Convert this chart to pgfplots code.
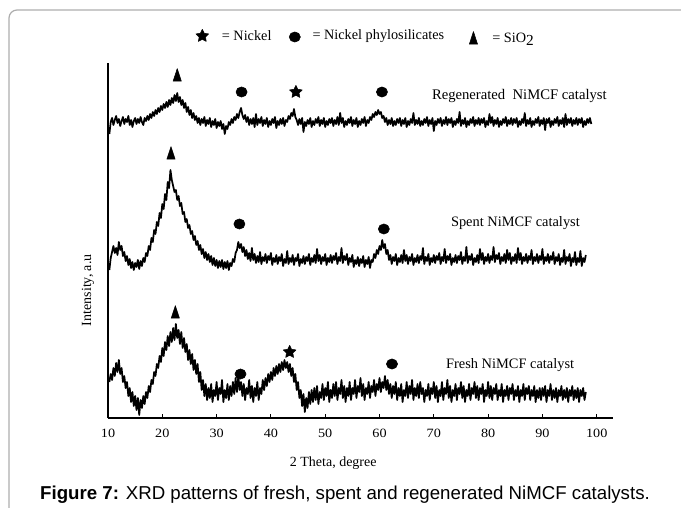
\documentclass[border=0pt]{standalone}
\usepackage{pgfplots}
\pgfplotsset{compat=1.18}
\usepackage{fontspec}
\setmainfont{Liberation Serif}
\newfontfamily\tickfont[FakeStretch=1.12]{Liberation Serif}
\newfontfamily\arialfont{Liberation Sans}

% filled five-point star
\pgfdeclareplotmark{fstar}{%
  \pgfpathmoveto{\pgfpointpolar{90}{\pgfplotmarksize}}%
  \pgfpathlineto{\pgfpointpolar{126}{0.5\pgfplotmarksize}}%
  \pgfpathlineto{\pgfpointpolar{162}{\pgfplotmarksize}}%
  \pgfpathlineto{\pgfpointpolar{198}{0.5\pgfplotmarksize}}%
  \pgfpathlineto{\pgfpointpolar{234}{\pgfplotmarksize}}%
  \pgfpathlineto{\pgfpointpolar{270}{0.5\pgfplotmarksize}}%
  \pgfpathlineto{\pgfpointpolar{306}{\pgfplotmarksize}}%
  \pgfpathlineto{\pgfpointpolar{342}{0.5\pgfplotmarksize}}%
  \pgfpathlineto{\pgfpointpolar{18}{\pgfplotmarksize}}%
  \pgfpathlineto{\pgfpointpolar{54}{0.5\pgfplotmarksize}}%
  \pgfpathclose
  \pgfusepathqfillstroke
}

\begin{document}
\begin{tikzpicture}
\useasboundingbox (-81pt,-66.75pt) rectangle (429.75pt,313.5pt);
\draw[black!32, line width=0.9pt, rounded corners=6pt] (-74.25pt,-91.5pt) rectangle (444pt,306pt);
\begin{axis}[
  scale only axis,
  width=378.75pt, height=266.25pt,
  xmin=10, xmax=103, ymin=0, ymax=355,
  clip=false,
  axis x line*=bottom, axis y line*=left,
  axis line style={line width=1pt},
  xtick={10,20,...,100}, ytick=\empty,
  tick align=inside, major tick length=3pt,
  tick style={line width=0.8pt, black},
  /pgf/number format/assume math mode=true,
  xticklabel style={font=\tickfont\fontsize{9.5}{11}\selectfont, yshift=-5pt},
  xlabel={2 Theta, degree},
  xlabel style={at={(rel axis cs:0.446,0)}, anchor=center, yshift=-33.75pt, font=\fontsize{10.5}{12}\selectfont},
  ylabel={Intensity, a.u},
  ylabel style={at={(rel axis cs:0,0.36)}, anchor=center, yshift=15pt, font=\fontsize{10.5}{12}\selectfont},
  every axis plot/.append style={line join=round},
]
% Fresh NiMCF
\addplot[black, line width=1.3pt, no marks] table[row sep=\\]{
x y\\
10.25 36\\ 10.5 44\\ 10.75 38\\ 11 50\\ 11.25 42\\ 11.5 55\\ 11.75 46\\ 12 58\\ 12.25 44\\ 12.5 50\\ 12.75 36\\
13 42\\ 13.25 30\\ 13.5 36\\ 13.75 22\\ 14 30\\ 14.25 16\\ 14.5 26\\ 14.75 12\\ 15 22\\ 15.25 8\\ 15.5 20\\ 15.75 3\\
16 18\\ 16.25 10\\ 16.5 22\\ 16.75 14\\ 17 26\\ 17.25 20\\ 17.5 32\\ 17.75 26\\ 18 38\\ 18.25 34\\ 18.5 46\\ 18.75 42\\
19 54\\ 19.25 50\\ 19.5 62\\ 19.75 56\\ 20 70\\ 20.25 62\\ 20.5 76\\ 20.75 68\\ 21 82\\ 21.25 72\\ 21.5 86\\ 21.75 76\\
22 90\\ 22.25 78\\ 22.5 94\\ 22.75 80\\ 23 88\\ 23.25 74\\ 23.5 86\\ 23.75 70\\ 24 80\\ 24.25 66\\ 24.5 74\\ 24.75 58\\
25 68\\ 25.25 54\\ 25.5 64\\ 25.75 48\\ 26 58\\ 26.25 44\\ 26.5 54\\ 26.75 36\\ 27 46\\ 27.25 28\\ 27.5 38\\ 27.75 22\\
28 34\\ 28.25 18\\ 28.5 30\\ 28.75 20\\ 29 34\\ 29.25 16\\ 29.5 28\\ 29.75 22\\ 30 36\\ 30.25 18\\ 30.5 30\\ 30.75 24\\
31 38\\ 31.25 16\\ 31.5 28\\ 31.75 20\\ 32 34\\ 32.25 18\\ 32.5 32\\ 32.75 22\\ 33 36\\ 33.25 24\\ 33.5 40\\ 33.75 26\\
34 42\\ 34.25 28\\ 34.5 36\\ 34.75 22\\ 35 34\\ 35.25 18\\ 35.5 30\\ 35.75 24\\ 36 38\\ 36.25 20\\ 36.5 32\\ 36.75 16\\
37 30\\ 37.25 22\\ 37.5 36\\ 37.75 18\\ 38 30\\ 38.25 24\\ 38.5 38\\ 38.75 28\\ 39 40\\ 39.25 32\\ 39.5 44\\ 39.75 36\\
40 46\\ 40.25 38\\ 40.5 50\\ 40.75 42\\ 41 52\\ 41.25 44\\ 41.5 54\\ 41.75 46\\ 42 56\\ 42.25 48\\ 42.5 58\\ 42.75 50\\
43 56\\ 43.25 46\\ 43.5 54\\ 43.75 42\\ 44 50\\ 44.25 36\\ 44.5 44\\ 44.75 28\\ 45 36\\ 45.25 20\\ 45.5 28\\ 45.75 12\\
46 24\\ 46.25 6\\ 46.5 20\\ 46.75 10\\ 47 26\\ 47.25 14\\ 47.5 28\\ 47.75 16\\ 48 30\\ 48.25 18\\ 48.5 32\\ 48.75 14\\
49 26\\ 49.25 20\\ 49.5 34\\ 49.75 18\\ 50 30\\ 50.25 22\\ 50.5 36\\ 50.75 16\\ 51 28\\ 51.25 20\\ 51.5 34\\ 51.75 22\\
52 36\\ 52.25 18\\ 52.5 30\\ 52.75 24\\ 53 38\\ 53.25 20\\ 53.5 32\\ 53.75 16\\ 54 30\\ 54.25 22\\ 54.5 36\\ 54.75 18\\
55 30\\ 55.25 24\\ 55.5 38\\ 55.75 20\\ 56 32\\ 56.25 26\\ 56.5 40\\ 56.75 22\\ 57 34\\ 57.25 18\\ 57.5 30\\ 57.75 24\\
58 36\\ 58.25 20\\ 58.5 32\\ 58.75 26\\ 59 38\\ 59.25 22\\ 59.5 34\\ 59.75 28\\ 60 40\\ 60.25 26\\ 60.5 36\\ 60.75 30\\
61 42\\ 61.25 28\\ 61.5 38\\ 61.75 24\\ 62 34\\ 62.25 20\\ 62.5 32\\ 62.75 24\\ 63 36\\ 63.25 18\\ 63.5 30\\ 63.75 22\\
64 34\\ 64.25 16\\ 64.5 28\\ 64.75 22\\ 65 36\\ 65.25 20\\ 65.5 32\\ 65.75 24\\ 66 38\\ 66.25 18\\ 66.5 30\\ 66.75 22\\
67 34\\ 67.25 20\\ 67.5 36\\ 67.75 24\\ 68 30\\ 68.25 16\\ 68.5 28\\ 68.75 22\\ 69 34\\ 69.25 18\\ 69.5 30\\ 69.75 24\\
70 36\\ 70.25 20\\ 70.5 32\\ 70.75 16\\ 71 28\\ 71.25 22\\ 71.5 36\\ 71.75 18\\ 72 30\\ 72.25 24\\ 72.5 38\\ 72.75 20\\
73 32\\ 73.25 16\\ 73.5 28\\ 73.75 22\\ 74 34\\ 74.25 18\\ 74.5 30\\ 74.75 24\\ 75 36\\ 75.25 20\\ 75.5 32\\ 75.75 16\\
76 28\\ 76.25 22\\ 76.5 34\\ 76.75 18\\ 77 30\\ 77.25 24\\ 77.5 36\\ 77.75 20\\ 78 32\\ 78.25 18\\ 78.5 30\\ 78.75 24\\
79 34\\ 79.25 16\\ 79.5 28\\ 79.75 22\\ 80 36\\ 80.25 20\\ 80.5 32\\ 80.75 18\\ 81 30\\ 81.25 24\\ 81.5 34\\ 81.75 18\\
82 28\\ 82.25 22\\ 82.5 34\\ 82.75 16\\ 83 28\\ 83.25 22\\ 83.5 32\\ 83.75 18\\ 84 30\\ 84.25 24\\ 84.5 34\\ 84.75 18\\
85 28\\ 85.25 22\\ 85.5 32\\ 85.75 16\\ 86 28\\ 86.25 22\\ 86.5 34\\ 86.75 18\\ 87 30\\ 87.25 24\\ 87.5 32\\ 87.75 18\\
88 28\\ 88.25 22\\ 88.5 32\\ 88.75 16\\ 89 28\\ 89.25 20\\ 89.5 30\\ 89.75 18\\ 90 30\\ 90.25 22\\ 90.5 32\\ 90.75 16\\
91 28\\ 91.25 22\\ 91.5 34\\ 91.75 18\\ 92 28\\ 92.25 20\\ 92.5 30\\ 92.75 16\\ 93 28\\ 93.25 22\\ 93.5 32\\ 93.75 18\\
94 28\\ 94.25 20\\ 94.5 30\\ 94.75 16\\ 95 28\\ 95.25 22\\ 95.5 32\\ 95.75 18\\ 96 28\\ 96.25 20\\ 96.5 30\\ 96.75 16\\
97 28\\ 97.25 22\\ 97.5 30\\ 97.75 18\\ 98 26\\
};
% Spent NiMCF
\addplot[black, line width=1.3pt, no marks] table[row sep=\\]{
x y\\
10.25 148\\ 10.5 160\\ 10.75 166\\ 11 172\\ 11.25 165\\ 11.5 170\\ 11.75 163\\ 12 176\\ 12.25 168\\ 12.5 172\\ 12.75 162\\
13 166\\ 13.25 157\\ 13.5 162\\ 13.75 153\\ 14 159\\ 14.25 150\\ 14.5 156\\ 14.75 148\\ 15 155\\ 15.25 151\\ 15.5 158\\ 15.75 149\\
16 157\\ 16.25 152\\ 16.5 160\\ 16.75 156\\ 17 165\\ 17.25 162\\ 17.5 172\\ 17.75 168\\ 18 180\\ 18.25 176\\ 18.5 188\\ 18.75 184\\
19 196\\ 19.25 192\\ 19.5 205\\ 19.75 200\\ 20 214\\ 20.25 209\\ 20.5 224\\ 20.75 218\\ 21 236\\ 21.25 230\\ 21.5 248\\ 21.75 238\\
22 232\\ 22.25 226\\ 22.5 228\\ 22.75 218\\ 23 222\\ 23.25 212\\ 23.5 215\\ 23.75 204\\ 24 206\\ 24.25 196\\ 24.5 199\\ 24.75 190\\
25 193\\ 25.25 184\\ 25.5 187\\ 25.75 178\\ 26 182\\ 26.25 173\\ 26.5 177\\ 26.75 168\\ 27 173\\ 27.25 164\\ 27.5 169\\ 27.75 160\\
28 166\\ 28.25 158\\ 28.5 164\\ 28.75 156\\ 29 162\\ 29.25 153\\ 29.5 160\\ 29.75 152\\ 30 158\\ 30.25 150\\ 30.5 157\\ 30.75 151\\
31 158\\ 31.25 149\\ 31.5 156\\ 31.75 150\\ 32 157\\ 32.25 148\\ 32.5 155\\ 32.75 152\\ 33 159\\ 33.25 156\\ 33.5 165\\ 33.75 168\\
34 176\\ 34.25 170\\ 34.5 174\\ 34.75 166\\ 35 171\\ 35.25 162\\ 35.5 168\\ 35.75 159\\ 36 165\\ 36.25 157\\ 36.5 170\\ 36.75 158\\
37 164\\ 37.25 155\\ 37.5 162\\ 37.75 156\\ 38 166\\ 38.25 154\\ 38.5 161\\ 38.75 157\\ 39 164\\ 39.25 155\\ 39.5 162\\ 39.75 158\\
40 165\\ 40.25 153\\ 40.5 160\\ 40.75 156\\ 41 163\\ 41.25 154\\ 41.5 161\\ 41.75 157\\ 42 164\\ 42.25 152\\ 42.5 159\\ 42.75 155\\
43 167\\ 43.25 154\\ 43.5 160\\ 43.75 156\\ 44 163\\ 44.25 153\\ 44.5 160\\ 44.75 157\\ 45 164\\ 45.25 152\\ 45.5 159\\ 45.75 155\\
46 162\\ 46.25 154\\ 46.5 161\\ 46.75 157\\ 47 164\\ 47.25 153\\ 47.5 160\\ 47.75 156\\ 48 163\\ 48.25 155\\ 48.5 169\\ 48.75 157\\
49 163\\ 49.25 154\\ 49.5 161\\ 49.75 157\\ 50 164\\ 50.25 153\\ 50.5 160\\ 50.75 156\\ 51 163\\ 51.25 155\\ 51.5 162\\ 51.75 158\\
52 165\\ 52.25 154\\ 52.5 161\\ 52.75 157\\ 53 170\\ 53.25 155\\ 53.5 162\\ 53.75 158\\ 54 164\\ 54.25 153\\ 54.5 160\\ 54.75 156\\
55 163\\ 55.25 151\\ 55.5 158\\ 55.75 154\\ 56 161\\ 56.25 152\\ 56.5 159\\ 56.75 155\\ 57 162\\ 57.25 151\\ 57.5 158\\ 57.75 154\\
58 161\\ 58.25 150\\ 58.5 158\\ 58.75 156\\ 59 164\\ 59.25 160\\ 59.5 168\\ 59.75 164\\ 60 172\\ 60.25 168\\ 60.5 178\\ 60.75 170\\
61 174\\ 61.25 164\\ 61.5 168\\ 61.75 158\\ 62 163\\ 62.25 154\\ 62.5 161\\ 62.75 157\\ 63 164\\ 63.25 153\\ 63.5 160\\ 63.75 156\\
64 163\\ 64.25 155\\ 64.5 168\\ 64.75 157\\ 65 163\\ 65.25 154\\ 65.5 161\\ 65.75 157\\ 66 164\\ 66.25 153\\ 66.5 160\\ 66.75 156\\
67 163\\ 67.25 155\\ 67.5 162\\ 67.75 158\\ 68 170\\ 68.25 154\\ 68.5 161\\ 68.75 157\\ 69 164\\ 69.25 153\\ 69.5 160\\ 69.75 156\\
70 163\\ 70.25 155\\ 70.5 162\\ 70.75 158\\ 71 165\\ 71.25 154\\ 71.5 161\\ 71.75 157\\ 72 169\\ 72.25 155\\ 72.5 162\\ 72.75 158\\
73 164\\ 73.25 153\\ 73.5 160\\ 73.75 156\\ 74 163\\ 74.25 155\\ 74.5 162\\ 74.75 158\\ 75 166\\ 75.25 154\\ 75.5 161\\ 75.75 157\\
76 171\\ 76.25 155\\ 76.5 162\\ 76.75 158\\ 77 164\\ 77.25 153\\ 77.5 160\\ 77.75 156\\ 78 163\\ 78.25 155\\ 78.5 169\\ 78.75 158\\
79 165\\ 79.25 154\\ 79.5 161\\ 79.75 157\\ 80 164\\ 80.25 155\\ 80.5 162\\ 80.75 158\\ 81 171\\ 81.25 156\\ 81.5 163\\ 81.75 159\\
82 165\\ 82.25 154\\ 82.5 161\\ 82.75 157\\ 83 164\\ 83.25 155\\ 83.5 168\\ 83.75 158\\ 84 165\\ 84.25 154\\ 84.5 161\\ 84.75 157\\
85 164\\ 85.25 155\\ 85.5 170\\ 85.75 158\\ 86 165\\ 86.25 154\\ 86.5 161\\ 86.75 157\\ 87 164\\ 87.25 155\\ 87.5 162\\ 87.75 158\\
88 168\\ 88.25 154\\ 88.5 161\\ 88.75 157\\ 89 164\\ 89.25 155\\ 89.5 162\\ 89.75 158\\ 90 169\\ 90.25 154\\ 90.5 161\\ 90.75 157\\
91 164\\ 91.25 155\\ 91.5 162\\ 91.75 158\\ 92 166\\ 92.25 154\\ 92.5 161\\ 92.75 157\\ 93 164\\ 93.25 153\\ 93.5 160\\ 93.75 156\\
94 168\\ 94.25 154\\ 94.5 161\\ 94.75 157\\ 95 164\\ 95.25 152\\ 95.5 160\\ 95.75 156\\ 96 166\\ 96.25 153\\ 96.5 160\\ 96.75 156\\
97 167\\ 97.25 152\\ 97.5 160\\ 97.75 156\\ 98 163\\
};
% Regenerated NiMCF
\addplot[black, line width=1.3pt, no marks] table[row sep=\\]{
x y\\
10.25 284\\ 10.5 296\\ 10.75 300\\ 11 293\\ 11.25 298\\ 11.5 302\\ 11.75 295\\ 12 299\\ 12.25 292\\ 12.5 297\\ 12.75 301\\
13 294\\ 13.25 299\\ 13.5 296\\ 13.75 302\\ 14 293\\ 14.25 298\\ 14.5 291\\ 14.75 297\\ 15 300\\ 15.25 294\\ 15.5 299\\ 15.75 295\\
16 301\\ 16.25 296\\ 16.5 293\\ 16.75 300\\ 17 297\\ 17.25 302\\ 17.5 298\\ 17.75 304\\ 18 300\\ 18.25 306\\ 18.5 302\\ 18.75 308\\
19 304\\ 19.25 310\\ 19.5 306\\ 19.75 312\\ 20 308\\ 20.25 314\\ 20.5 310\\ 20.75 316\\ 21 311\\ 21.25 318\\ 21.5 313\\ 21.75 320\\
22 315\\ 22.25 323\\ 22.5 317\\ 22.75 325\\ 23 316\\ 23.25 321\\ 23.5 313\\ 23.75 318\\ 24 310\\ 24.25 315\\ 24.5 306\\ 24.75 311\\
25 303\\ 25.25 308\\ 25.5 300\\ 25.75 305\\ 26 298\\ 26.25 302\\ 26.5 295\\ 26.75 300\\ 27 293\\ 27.25 299\\ 27.5 295\\ 27.75 301\\
28 292\\ 28.25 298\\ 28.5 294\\ 28.75 300\\ 29 291\\ 29.25 297\\ 29.5 293\\ 29.75 299\\ 30 290\\ 30.25 296\\ 30.5 292\\ 30.75 297\\
31 289\\ 31.25 294\\ 31.5 284\\ 31.75 292\\ 32 289\\ 32.25 296\\ 32.5 293\\ 32.75 299\\ 33 295\\ 33.25 301\\ 33.5 298\\ 33.75 304\\
34 300\\ 34.25 306\\ 34.5 310\\ 34.75 303\\ 35 299\\ 35.25 303\\ 35.5 296\\ 35.75 301\\ 36 293\\ 36.25 299\\ 36.5 294\\ 36.75 300\\
37 291\\ 37.25 304\\ 37.5 293\\ 37.75 299\\ 38 295\\ 38.25 301\\ 38.5 292\\ 38.75 298\\ 39 294\\ 39.25 300\\ 39.5 291\\ 39.75 297\\
40 293\\ 40.25 299\\ 40.5 295\\ 40.75 301\\ 41 290\\ 41.25 297\\ 41.5 293\\ 41.75 299\\ 42 294\\ 42.25 300\\ 42.5 292\\ 42.75 298\\
43 296\\ 43.25 302\\ 43.5 299\\ 43.75 305\\ 44 302\\ 44.25 309\\ 44.5 301\\ 44.75 298\\ 45 293\\ 45.25 299\\ 45.5 294\\ 45.75 300\\
46 286\\ 46.25 296\\ 46.5 292\\ 46.75 298\\ 47 294\\ 47.25 300\\ 47.5 291\\ 47.75 297\\ 48 293\\ 48.25 299\\ 48.5 295\\ 48.75 301\\
49 292\\ 49.25 298\\ 49.5 294\\ 49.75 300\\ 50 291\\ 50.25 297\\ 50.5 293\\ 50.75 299\\ 51 295\\ 51.25 300\\ 51.5 292\\ 51.75 298\\
52 294\\ 52.25 301\\ 52.5 293\\ 52.75 305\\ 53 295\\ 53.25 300\\ 53.5 291\\ 53.75 297\\ 54 293\\ 54.25 299\\ 54.5 295\\ 54.75 301\\
55 292\\ 55.25 298\\ 55.5 294\\ 55.75 300\\ 56 291\\ 56.25 297\\ 56.5 293\\ 56.75 299\\ 57 295\\ 57.25 301\\ 57.5 292\\ 57.75 298\\
58 295\\ 58.25 301\\ 58.5 298\\ 58.75 304\\ 59 301\\ 59.25 306\\ 59.5 303\\ 59.75 308\\ 60 304\\ 60.25 306\\ 60.5 300\\ 60.75 302\\
61 296\\ 61.25 300\\ 61.5 293\\ 61.75 298\\ 62 294\\ 62.25 300\\ 62.5 292\\ 62.75 297\\ 63 293\\ 63.25 299\\ 63.5 295\\ 63.75 300\\
64 292\\ 64.25 298\\ 64.5 294\\ 64.75 300\\ 65 291\\ 65.25 297\\ 65.5 293\\ 65.75 299\\ 66 295\\ 66.25 305\\ 66.5 293\\ 66.75 298\\
67 294\\ 67.25 300\\ 67.5 292\\ 67.75 297\\ 68 293\\ 68.25 299\\ 68.5 295\\ 68.75 301\\ 69 292\\ 69.25 298\\ 69.5 294\\ 69.75 300\\
70 287\\ 70.25 297\\ 70.5 293\\ 70.75 299\\ 71 295\\ 71.25 300\\ 71.5 292\\ 71.75 298\\ 72 294\\ 72.25 301\\ 72.5 293\\ 72.75 299\\
73 295\\ 73.25 300\\ 73.5 291\\ 73.75 297\\ 74 293\\ 74.25 299\\ 74.5 295\\ 74.75 306\\ 75 292\\ 75.25 298\\ 75.5 294\\ 75.75 300\\
76 291\\ 76.25 297\\ 76.5 293\\ 76.75 299\\ 77 295\\ 77.25 301\\ 77.5 292\\ 77.75 298\\ 78 294\\ 78.25 300\\ 78.5 293\\ 78.75 299\\
79 295\\ 79.25 300\\ 79.5 291\\ 79.75 297\\ 80 293\\ 80.25 304\\ 80.5 295\\ 80.75 301\\ 81 292\\ 81.25 298\\ 81.5 294\\ 81.75 300\\
82 291\\ 82.25 297\\ 82.5 293\\ 82.75 299\\ 83 295\\ 83.25 301\\ 83.5 292\\ 83.75 298\\ 84 294\\ 84.25 300\\ 84.5 293\\ 84.75 299\\
85 295\\ 85.25 300\\ 85.5 291\\ 85.75 297\\ 86 293\\ 86.25 299\\ 86.5 295\\ 86.75 305\\ 87 292\\ 87.25 298\\ 87.5 294\\ 87.75 300\\
88 291\\ 88.25 297\\ 88.5 293\\ 88.75 299\\ 89 295\\ 89.25 301\\ 89.5 292\\ 89.75 298\\ 90 294\\ 90.25 300\\ 90.5 288\\ 90.75 299\\
91 295\\ 91.25 300\\ 91.5 291\\ 91.75 297\\ 92 293\\ 92.25 299\\ 92.5 295\\ 92.75 301\\ 93 292\\ 93.25 298\\ 93.5 294\\ 93.75 300\\
94 291\\ 94.25 304\\ 94.5 293\\ 94.75 299\\ 95 295\\ 95.25 300\\ 95.5 292\\ 95.75 298\\ 96 294\\ 96.25 300\\ 96.5 293\\ 96.75 299\\
97 295\\ 97.25 300\\ 97.5 291\\ 97.75 297\\ 98 293\\ 98.25 299\\ 98.5 295\\ 98.75 300\\ 99 294\\
};
% peak markers: Nickel (star)
\addplot[black, only marks, mark=fstar, mark size=5pt] coordinates {(44.6,326) (43.45,66) (27.37,382)};
% Nickel phylosilicates (circle)
\addplot[black, only marks, mark=*, mark size=3.8pt, mark options={xscale=1.1}] coordinates {(34.6,326) (60.45,326) (34.2,194) (60.8,189) (34.4,44) (62.3,54) (44.4,381)};
% SiO2 (triangle)
\addplot[black, only marks, mark=triangle*, mark size=4.2pt, mark options={yscale=1.5, xscale=0.85}] coordinates {(22.75,341) (21.6,263) (22.4,104) (77.3,378)};
% sample labels
\node[anchor=west, font=\fontsize{11}{13}\selectfont] at (axis cs:68.8,322) {Regenerated\ \ NiMCF catalyst};
\node[anchor=west, font=\fontsize{10.8}{13}\selectfont] at (axis cs:72.3,195) {Spent NiMCF catalyst};
\node[anchor=west, font=\fontsize{10.8}{13}\selectfont] at (axis cs:71.4,53) {Fresh NiMCF catalyst};
% key
\node[anchor=west, font=\fontsize{10.7}{13}\selectfont] at (axis cs:30.1,382) {= Nickel};
\node[anchor=west, font=\fontsize{10.7}{13}\selectfont] at (axis cs:46.8,382) {= Nickel phylosilicates};
\node[anchor=west, font=\fontsize{10.7}{13}\selectfont] at (axis cs:79.9,379) {= SiO\raisebox{-0.45ex}{\fontsize{11.5}{13}\selectfont 2}};
\end{axis}
\node[font=\arialfont\fontsize{14}{16}\selectfont] at (177.75pt,-57.75pt) {\textbf{Figure 7:} XRD patterns of fresh, spent and regenerated NiMCF catalysts.};
\end{tikzpicture}
\end{document}
